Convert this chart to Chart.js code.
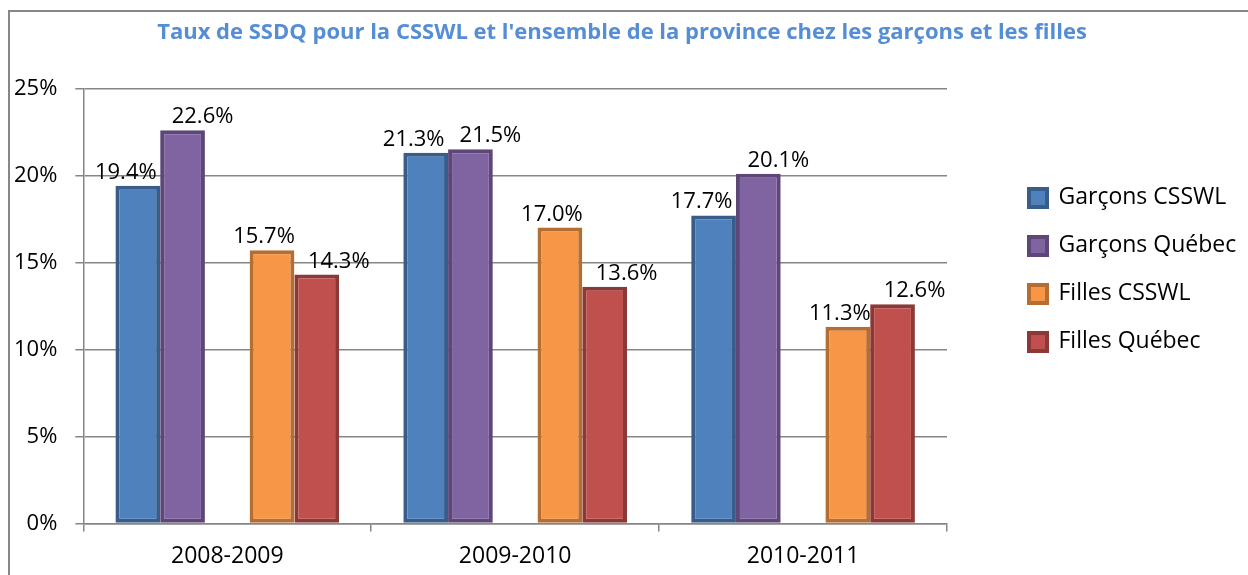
<!DOCTYPE html>
<html>
<head>
<meta charset="utf-8">
<script src="https://cdn.jsdelivr.net/npm/chart.js@4.4.1/dist/chart.umd.min.js"></script>
<style>
    body { margin: 0; background: #ffffff; overflow: hidden; }
    #wrap { position: relative; width: 1248px; height: 575px; }
    #frame { position: absolute; left: 8px; top: 10px; width: 1300px; height: 700px; border-left: 2px solid #878787; border-top: 2px solid #878787; }
    canvas { position: absolute; left: 0; top: 0; }
</style>
</head>
<body>
<div id="wrap">
    <div id="frame"></div>
    <canvas id="chart" width="1248" height="575"></canvas>
</div>
<script>
// Data (percent)
const years = ['2008-2009', '2009-2010', '2010-2011'];
const garconsCsswl = [19.4, 21.3, 17.7];
const garconsQuebec = [22.6, 21.5, 20.1];
const fillesCsswl = [15.7, 17.0, 11.3];
const fillesQuebec = [14.3, 13.6, 12.6];

const FONT = "'Open Sans', 'Noto Sans', sans-serif";
const GRID = '#868686';

// Draws the value labels above each bar (Excel style, slightly shifted sideways)
const valueLabels = {
    id: 'valueLabels',
    afterDatasetsDraw(chart) {
        const ctx = chart.ctx;
        const shift = [-12, 20, 0, -8, 22];
        ctx.save();
        ctx.font = '22px ' + FONT;
        ctx.fillStyle = '#000000';
        ctx.textAlign = 'center';
        ctx.textBaseline = 'alphabetic';
        chart.data.datasets.forEach((ds, i) => {
            if (!ds.label) return;
            chart.getDatasetMeta(i).data.forEach((bar, j) => {
                const v = ds.data[j];
                if (v == null) return;
                ctx.fillText(v.toFixed(1) + '%', bar.x + shift[i], bar.y - 7);
            });
        });
        ctx.restore();
    }
};

// Fixed legend width so the legend box sits where Excel put it
const legendWidth = {
    id: 'legendWidth',
    beforeInit(chart) {
        const fit = chart.legend.fit;
        chart.legend.fit = function () {
            fit.bind(chart.legend)();
            this.width = 244;
        };
    }
};

function barSet(label, data, fill, edge) {
    return {
        label: label,
        data: data,
        backgroundColor: fill,
        borderColor: edge,
        borderWidth: 4,
        borderSkipped: false
    };
}

new Chart(document.getElementById('chart'), {
    type: 'bar',
    data: {
        labels: years,
        datasets: [
            barSet('Garçons CSSWL', garconsCsswl, '#4F81BD', '#385D8A'),
            barSet('Garçons Québec', garconsQuebec, '#8064A2', '#5C4776'),
            // empty slot that leaves the gap between the boys and the girls
            { label: '', data: [null, null, null], backgroundColor: 'rgba(0,0,0,0)' },
            barSet('Filles CSSWL', fillesCsswl, '#F79646', '#B66D31'),
            barSet('Filles Québec', fillesQuebec, '#C0504D', '#8C3836')
        ]
    },
    options: {
        responsive: false,
        animation: false,
        devicePixelRatio: 1,
        datasets: {
            bar: { categoryPercentage: 0.777, barPercentage: 1.0 }
        },
        layout: { padding: { left: -4, right: 0, top: 0, bottom: -6 } },
        plugins: {
            title: {
                display: true,
                text: "Taux de SSDQ pour la CSSWL et l'ensemble de la province chez les garçons et les filles",
                color: '#558ED5',
                font: { family: FONT, size: 22, weight: 'bold' },
                padding: { top: 20, bottom: 42 }
            },
            legend: {
                position: 'right',
                align: 'start',
                title: {
                    display: true,
                    text: ' ',
                    font: { size: 12 },
                    padding: { top: 0, bottom: 147 }
                },
                labels: {
                    filter: item => item.text !== '',
                    boxWidth: 18,
                    boxHeight: 18,
                    padding: 25,
                    color: '#000000',
                    font: { family: FONT, size: 23 }
                }
            },
            tooltip: { enabled: false }
        },
        scales: {
            x: {
                grid: {
                    display: true,
                    drawOnChartArea: false,
                    drawTicks: true,
                    tickLength: 8,
                    color: GRID,
                    lineWidth: 1.5
                },
                border: { color: GRID, width: 1.5 },
                ticks: {
                    color: '#000000',
                    padding: 11,
                    font: { family: FONT, size: 23 }
                }
            },
            y: {
                min: 0,
                max: 25,
                ticks: {
                    stepSize: 5,
                    color: '#000000',
                    padding: 18,
                    font: { family: FONT, size: 22 },
                    callback: v => v + '%'
                },
                grid: { color: GRID, lineWidth: 1.5, tickLength: 8 },
                border: { color: GRID, width: 1.5 }
            },
            // invisible scale keeping the gap between plot and legend
            gap: {
                type: 'linear',
                position: 'right',
                display: true,
                grid: { display: false },
                border: { display: false },
                ticks: { display: false },
                afterFit: scale => { scale.width = 57; }
            }
        }
    },
    plugins: [valueLabels, legendWidth]
});
</script>
</body>
</html>
